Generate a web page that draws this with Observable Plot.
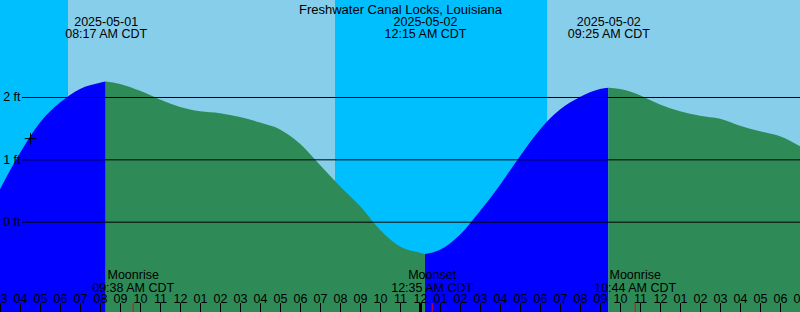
<!DOCTYPE html>
<html>
<head>
<meta charset="utf-8">
<script src="https://cdn.jsdelivr.net/npm/d3@7"></script>
<script src="https://cdn.jsdelivr.net/npm/@observablehq/plot@0.6"></script>
<style>
  html, body { margin: 0; padding: 0; background: #fff; }
  #chart svg { display: block; }
</style>
</head>
<body>
<div id="chart"></div>
<script>
// ---------- data ----------
const title = "Freshwater Canal Locks, Louisiana";

const tideTimes = [
  "2025-05-01 03:00","2025-05-01 04:00","2025-05-01 05:00","2025-05-01 06:00","2025-05-01 07:00",
  "2025-05-01 08:00","2025-05-01 09:00","2025-05-01 10:00","2025-05-01 11:00","2025-05-01 12:00",
  "2025-05-01 13:00","2025-05-01 14:00","2025-05-01 15:00","2025-05-01 16:00","2025-05-01 17:00",
  "2025-05-01 18:00","2025-05-01 19:00","2025-05-01 20:00","2025-05-01 21:00","2025-05-01 22:00",
  "2025-05-01 23:00","2025-05-02 00:00","2025-05-02 01:00","2025-05-02 02:00","2025-05-02 03:00",
  "2025-05-02 04:00","2025-05-02 05:00","2025-05-02 06:00","2025-05-02 07:00","2025-05-02 08:00",
  "2025-05-02 09:00","2025-05-02 10:00","2025-05-02 11:00","2025-05-02 12:00","2025-05-02 13:00",
  "2025-05-02 14:00","2025-05-02 15:00","2025-05-02 16:00","2025-05-02 17:00","2025-05-02 18:00",
  "2025-05-02 19:00"
];
const tideHeights = [
  0.52, 1.10, 1.59, 1.91, 2.13,
  2.23, 2.21, 2.10, 1.96, 1.84,
  1.77, 1.74, 1.68, 1.59, 1.48,
  1.25, 0.91, 0.57, 0.25, -0.13,
  -0.40, -0.50, -0.45, -0.21, 0.17,
  0.59, 1.05, 1.48, 1.80, 2.00,
  2.13, 2.13, 2.03, 1.88, 1.77,
  1.70, 1.65, 1.54, 1.45, 1.37,
  1.21
];

const extremeTimes = ["2025-05-01 08:17", "2025-05-02 00:15", "2025-05-02 09:25"];
const extremeTypes = ["high", "low", "high"];
const extremeHeights = [2.25, -0.52, 2.15];
const extremeDateLabels = ["2025-05-01", "2025-05-02", "2025-05-02"];
const extremeTimeLabels = ["08:17 AM CDT", "12:15 AM CDT", "09:25 AM CDT"];

const sunTimes = ["2025-05-01 06:24", "2025-05-01 19:45", "2025-05-02 06:23", "2025-05-02 19:46"];
const sunEvents = ["sunrise", "sunset", "sunrise", "sunset"];

const moonTimes = ["2025-05-01 09:38", "2025-05-02 00:35", "2025-05-02 10:44"];
const moonEvents = ["Moonrise", "Moonset", "Moonrise"];
const moonTimeLabels = ["09:38 AM CDT", "12:35 AM CDT", "10:44 AM CDT"];

const heightTicks = [0, 1, 2];
const heightTickLabels = ["0 ft", "1 ft", "2 ft"];

const nowTime = "2025-05-01 04:30";
const nowHeight = 1.34;

const dayBoundary = "2025-05-02 00:00";
const timeDomain = ["2025-05-01 03:00", "2025-05-02 19:00"];
const heightDomain = [-1.449, 3.556];

// ---------- build tables ----------
const parse = d3.utcParse("%Y-%m-%d %H:%M");
const start = parse(timeDomain[0]);
const end = parse(timeDomain[1]);

const pts = tideTimes.map((t, i) => ({t: parse(t), v: tideHeights[i]}));
const ext = extremeTimes.map((t, i) => ({
  t: parse(t), v: extremeHeights[i], type: extremeTypes[i],
  label: extremeDateLabels[i] + "\n" + extremeTimeLabels[i]
}));

const segRows = [];
for (let s = 0; s <= ext.length; s++) {
  const lo = s > 0 ? +ext[s - 1].t : -Infinity;
  const hi = s < ext.length ? +ext[s].t : Infinity;
  const rising = s < ext.length ? ext[s].type === "high" : ext[s - 1].type === "low";
  const fill = rising ? "#0000ff" : "#2e8b57";
  const seg = [];
  if (s > 0) seg.push({t: ext[s - 1].t, v: ext[s - 1].v});
  pts.filter(p => +p.t > lo && +p.t < hi).forEach(p => seg.push(p));
  if (s < ext.length) seg.push({t: ext[s].t, v: ext[s].v});
  seg.forEach(p => segRows.push({t: p.t, v: p.v, seg: s, fill}));
}

const bands = [];
for (let i = 0; i <= sunTimes.length; i++) {
  const x1 = i === 0 ? start : parse(sunTimes[i - 1]);
  const x2 = i < sunTimes.length ? parse(sunTimes[i]) : end;
  const isDay = i === 0 ? sunEvents[0] === "sunset" : sunEvents[i - 1] === "sunrise";
  if (+x2 > +x1) bands.push({x1, x2, fill: isDay ? "#87ceeb" : "#00bfff"});
}

const moon = moonTimes.map((t, i) => ({t: parse(t), label: moonEvents[i] + "\n" + moonTimeLabels[i]}));
const hourTicks = d3.utcHour.range(start, d3.utcHour.offset(end, 1));
const hourFmt = d3.utcFormat("%I");

const font = "'Liberation Sans', Arial, sans-serif";

const chart = Plot.plot({
  width: 800,
  height: 312,
  marginTop: 0, marginRight: 0, marginBottom: 0, marginLeft: 0,
  style: {fontFamily: font, fontSize: "12.5px", background: "#fff"},
  x: {type: "utc", domain: [start, end], axis: null},
  y: {domain: heightDomain, axis: null},
  color: {type: "identity"},
  marks: [
    Plot.rect(bands, {x1: "x1", x2: "x2", fill: "fill", clip: true}),
    Plot.areaY(segRows, {x: "t", y1: heightDomain[0], y2: "v", z: "seg", fill: "fill", curve: "monotone-x", clip: true}),
    Plot.ruleY(heightTicks, {y: d => d, stroke: "black", strokeWidth: 1, insetLeft: 22}),
    Plot.text(heightTicks, {y: d => d, text: (d, i) => heightTickLabels[i], frameAnchor: "left", dx: 20, textAnchor: "end", fill: "black", fontSize: 12.5}),
    Plot.text([title], {text: d => d, frameAnchor: "top", lineAnchor: "bottom", dy: 13, fill: "black", fontSize: 13}),
    Plot.text(ext, {x: "t", text: "label", frameAnchor: "top", lineAnchor: "bottom", dy: 37, lineHeight: 0.94, fill: "black", fontSize: 12.5}),
    Plot.text(moon, {x: "t", text: "label", frameAnchor: "bottom", lineAnchor: "bottom", dy: -21, lineHeight: 0.98, fill: "black", fontSize: 12.5}),
    Plot.text(hourTicks, {x: d => d, text: d => hourFmt(d), frameAnchor: "bottom", lineAnchor: "bottom", dy: -10, fill: "black", fontSize: 12.5}),
    Plot.tickX(hourTicks, {x: d => d, stroke: "black", strokeWidth: 1, insetTop: 303}),
    Plot.tickX([parse(dayBoundary)], {x: d => d, stroke: "black", strokeWidth: 3, insetTop: 303}),
    Plot.tickX(moon, {x: "t", stroke: "red", strokeWidth: 1, insetTop: 303}),
    Plot.dot([{t: parse(nowTime), v: nowHeight}], {x: "t", y: "v", symbol: "plus", r: 3.8, stroke: "black", strokeWidth: 1})
  ]
});
document.getElementById("chart").appendChild(chart);
</script>
</body>
</html>
